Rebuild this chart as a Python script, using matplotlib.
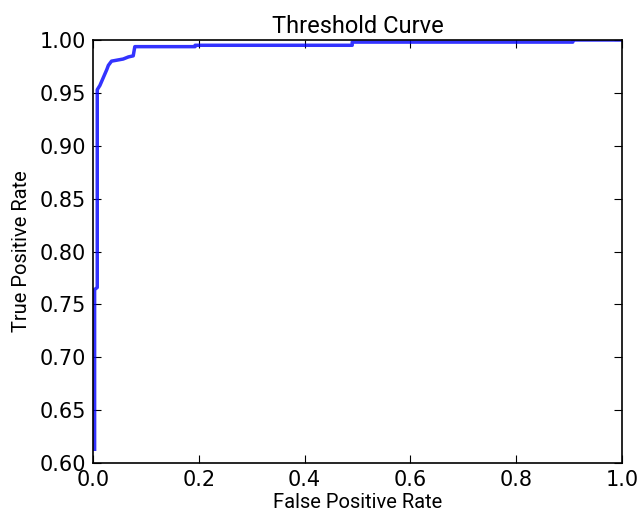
import matplotlib
matplotlib.use("Agg")
import matplotlib.pyplot as plt

# ROC points
fpr = [0.003, 0.003, 0.008, 0.008, 0.013, 0.026, 0.029, 0.035, 0.057, 0.067, 0.076,
       0.079, 0.193, 0.193, 0.49, 0.49, 0.907, 0.907, 1.0]
tpr = [0.613, 0.764, 0.766, 0.953, 0.957, 0.972, 0.976, 0.980, 0.982, 0.984, 0.985,
       0.9937, 0.9937, 0.995, 0.995, 0.998, 0.998, 1.0, 1.0]

plt.rcParams["font.family"] = ["Roboto", "DejaVu Sans"]

fig = plt.figure(figsize=(6.42, 5.14), dpi=100)
ax = fig.add_axes([0.1449, 0.0992, 0.8239, 0.8230])
ax.plot(fpr, tpr, color="#0000ff", linewidth=2.5, alpha=0.8)
ax.set_xlim(0.0, 1.0)
ax.set_ylim(0.60, 1.00)
ax.set_xticks([0.0, 0.2, 0.4, 0.6, 0.8, 1.0])
ax.set_yticks([0.60, 0.65, 0.70, 0.75, 0.80, 0.85, 0.90, 0.95, 1.00])
ax.set_yticklabels(["0.60", "0.65", "0.70", "0.75", "0.80", "0.85", "0.90", "0.95", "1.00"])
ax.tick_params(direction="in", top=True, right=True, length=6, pad=5)
for lab in ax.get_xticklabels() + ax.get_yticklabels():
    lab.set_fontfamily("DejaVu Sans")
    lab.set_fontsize(15)
for s in ax.spines.values():
    s.set_linewidth(1.2)
ax.set_xlabel("False Positive Rate", fontsize=14.5, labelpad=2)
ax.set_ylabel("True Positive Rate", fontsize=14.5, labelpad=6)
ax.set_title("Threshold Curve", fontsize=17, pad=5)

fig.savefig("out.png", dpi=100)
